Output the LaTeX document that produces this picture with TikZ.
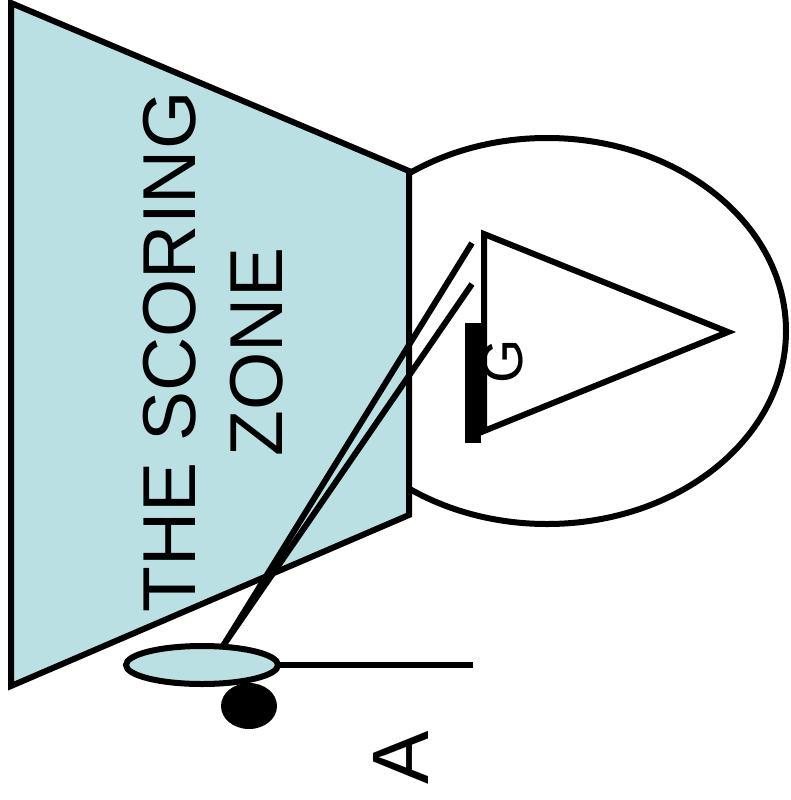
\documentclass[tikz,border=0pt]{standalone}
\usepackage{fontspec}
\setmainfont{Liberation Sans}
\definecolor{zone}{HTML}{BBE0E3}
\begin{document}
\begin{tikzpicture}[x=1pt,y=-1pt,
  edge/.style={line width=6pt,line join=miter},
  label/.style={inner sep=0pt,rotate=90,text=black}]
\useasboundingbox (0,0) rectangle (791,800);
% green circle
\draw[edge,fill=white] (547,331) ellipse [x radius=239, y radius=193];
% scoring zone
\draw[edge,fill=zone] (11,3) -- (409,171) -- (409,515) -- (11,686) -- cycle;
\node[label,align=center,font=\fontsize{75}{87}\selectfont] (zonetext) at (213,352) {THE SCORING\\ZONE};
% flag
\draw[edge,fill=white] (484,234) -- (728,332) -- (484,431) -- cycle;
\fill (465,323) rectangle (481,443);
\node[label,font=\fontsize{57}{62}\selectfont] (g) at (503,361) {G};
% club
\coordinate (s1) at (472,243);
\coordinate (s2) at (472,284);
\coordinate (hosel) at (223,646);
\draw[edge] (s1) -- (hosel);
\draw[edge] (s2) -- (hosel);
\draw[edge,fill=zone] (202,665) ellipse [x radius=76, y radius=19];
\coordinate (he) at (278,665);
\coordinate (le) at (473,665);
\draw[edge] (he) -- (le);
\fill (249,706) ellipse [x radius=28, y radius=23];
\node[label,font=\fontsize{80}{90}\selectfont] (a) at (401,758) {A};
\end{tikzpicture}
\end{document}
